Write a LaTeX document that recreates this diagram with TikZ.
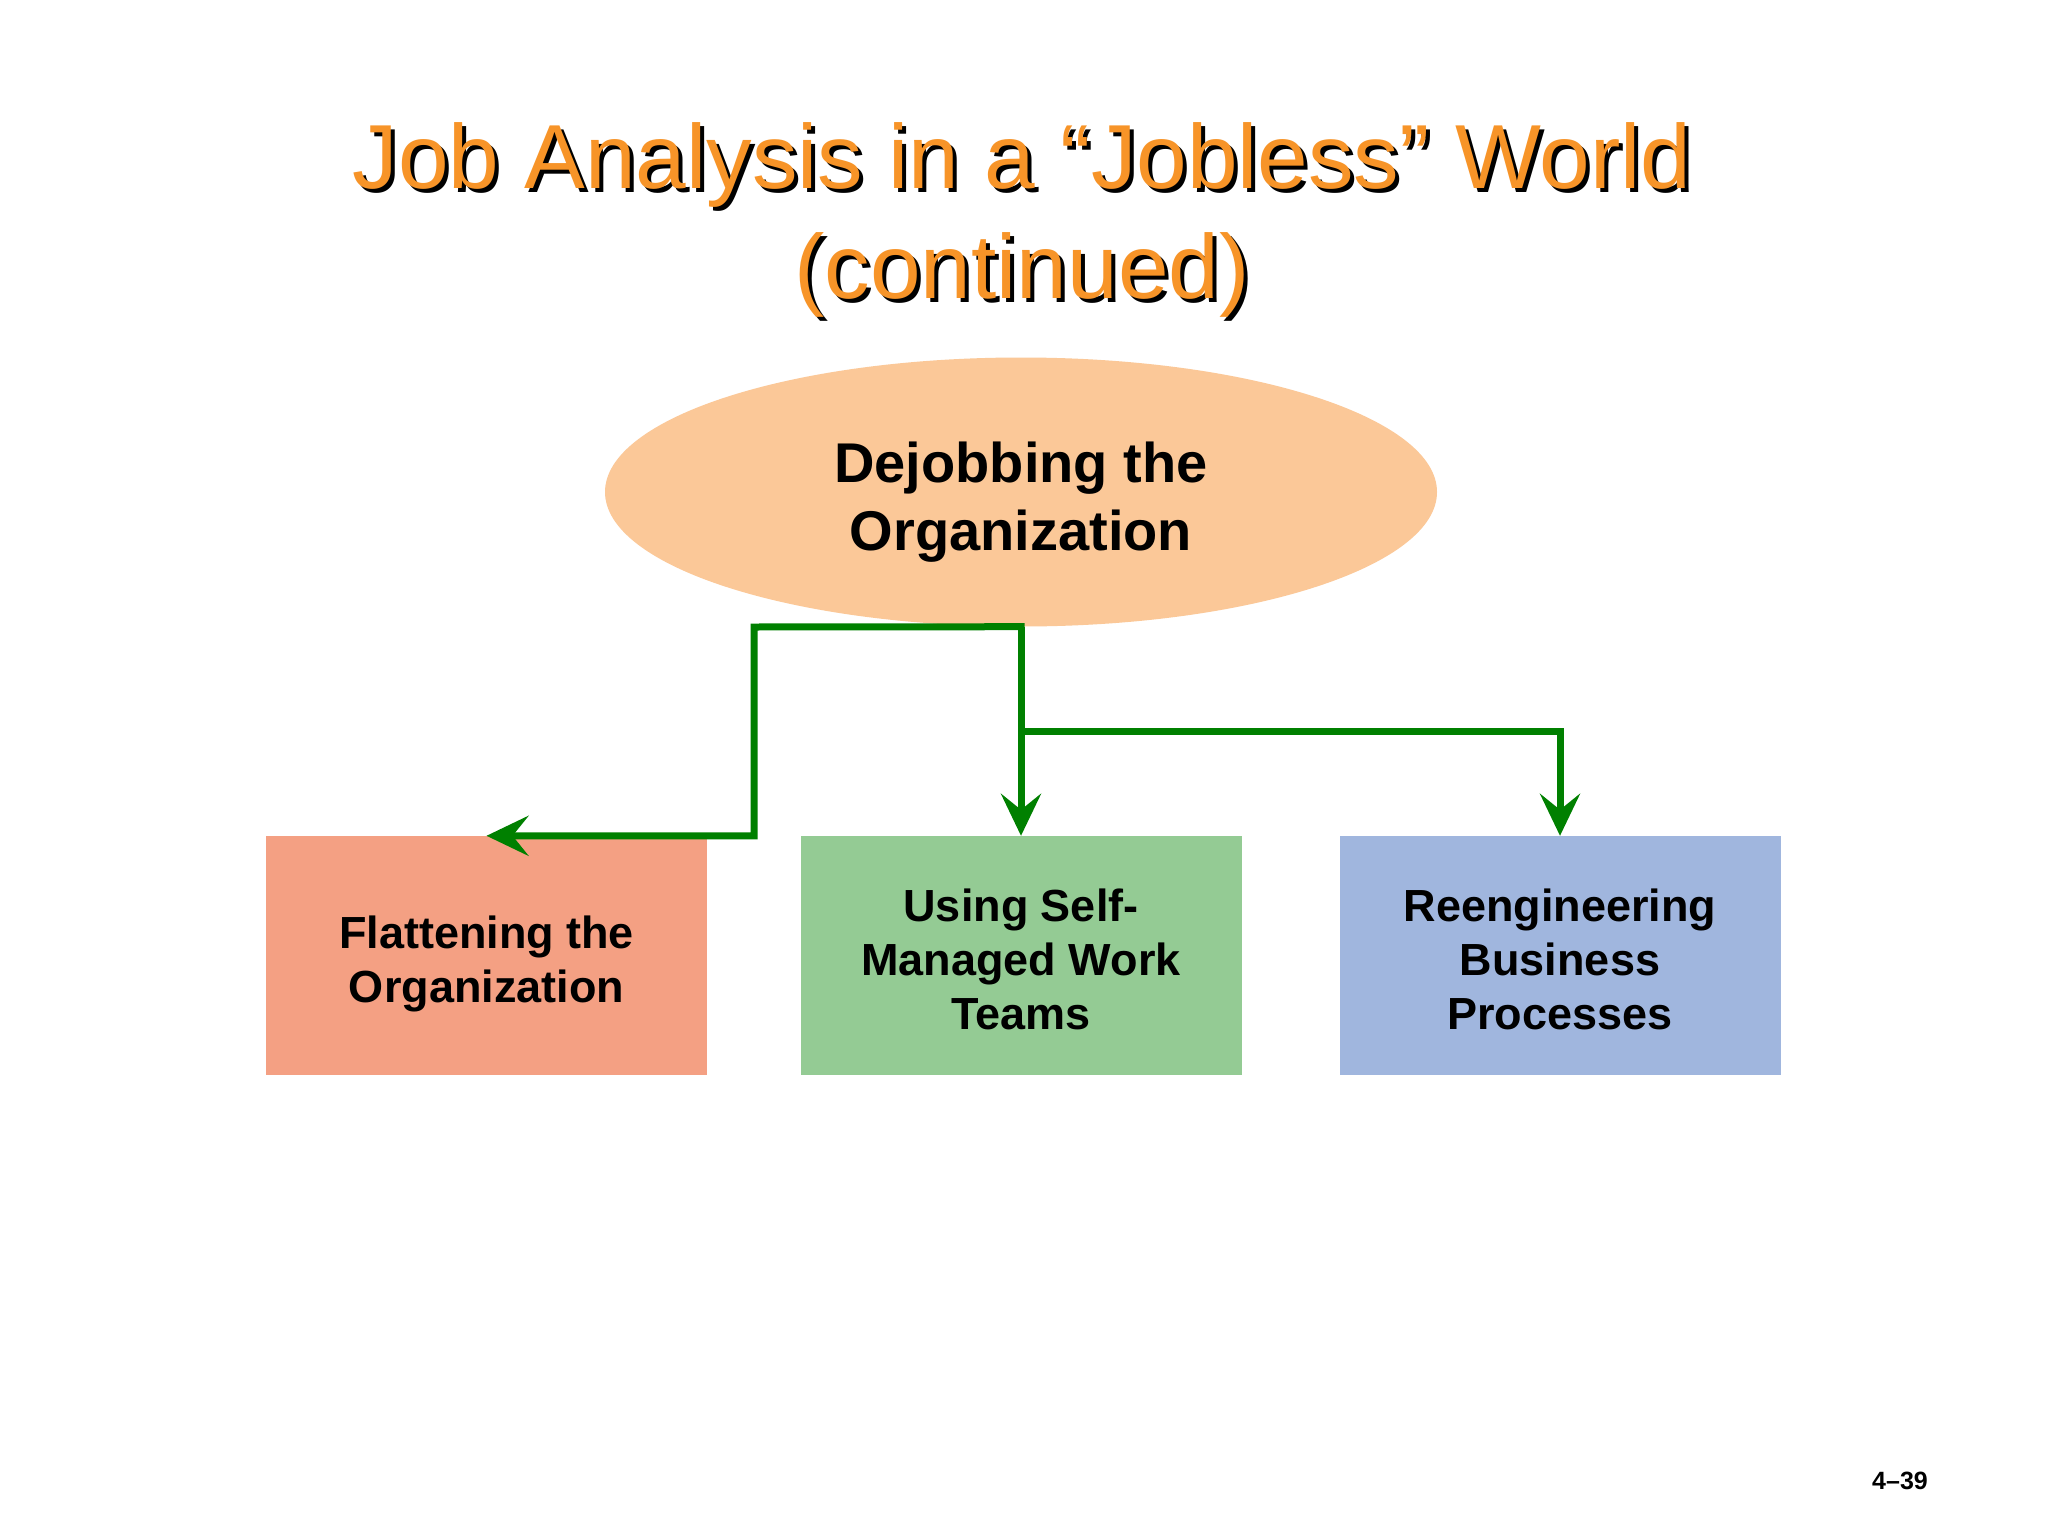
\documentclass[tikz,border=0pt]{standalone}
\usepackage{fontspec}
\setmainfont{Liberation Sans}
\usetikzlibrary{arrows.meta,shapes.geometric}
\definecolor{titleorange}{RGB}{247,148,40}
\definecolor{ellfill}{RGB}{251,200,152}
\definecolor{boxred}{RGB}{244,160,131}
\definecolor{boxgreen}{RGB}{148,203,148}
\definecolor{boxblue}{RGB}{160,182,222}
\definecolor{arrowgreen}{RGB}{0,128,0}
\tikzset{
  titletext/.style={font=\fontsize{91}{110}\selectfont, inner sep=0, anchor=base},
  boxnode/.style={rectangle, minimum width=441pt, minimum height=239pt, inner sep=0},
  boxtext/.style={inner sep=0, align=center, font=\fontsize{45}{54}\selectfont\bfseries},
  conn/.style={draw=arrowgreen, line width=7pt, line join=miter,
    -{Stealth[length=42pt, width=40pt, inset=16pt]}}
}
\begin{document}
\begin{tikzpicture}[x=1pt,y=-1pt]
\useasboundingbox[fill=white] (0,0) rectangle (2048,1536);
% title with shadow
\node[titletext, text=black] (t1s) at (1026,193) {Job Analysis in a “Jobless” World};
\node[titletext, text=titleorange] (t1) at (1022,189) {Job Analysis in a “Jobless” World};
\node[titletext, text=black] (t2s) at (1026,302) {(continued)};
\node[titletext, text=titleorange] (t2) at (1022,298) {(continued)};
% ellipse
\node[ellipse, fill=ellfill, minimum width=832pt, minimum height=269pt, inner sep=0] (ell) at (1021,492) {};
\node[inner sep=0, align=center, font=\fontsize{56}{68}\selectfont\bfseries] (ellt) at ([yshift=-10pt]ell.center) {Dejobbing the\\Organization};
% boxes
\node[boxnode, fill=boxred] (b1) at (486.5,955.5) {};
\node[boxnode, fill=boxgreen] (b2) at (1021,955.5) {};
\node[boxnode, fill=boxblue] (b3) at (1560,955.5) {};
\node[boxtext] (b1t) at ([yshift=-8pt]b1.center) {Flattening the\\Organization};
\node[boxtext] (b2t) at ([yshift=-4pt]b2.center) {Using Self-\\Managed Work\\Teams};
\node[boxtext] (b3t) at ([yshift=-4pt]b3.center) {Reengineering\\Business\\Processes};
% connectors
\coordinate (j1) at (754,627);
\coordinate (j2) at (1021,731);
\draw[conn] ([xshift=3.5pt]ell.south) -- (j1) |- (b1.north);
\draw[conn] (ell.south) -- (b2.north);
\draw[conn] (j2) -| (b3.north);
% page number
\node[font=\fontsize{25}{30}\selectfont\bfseries, inner sep=0] (pg) at (1900,1481) {4–39};
\end{tikzpicture}
\end{document}
